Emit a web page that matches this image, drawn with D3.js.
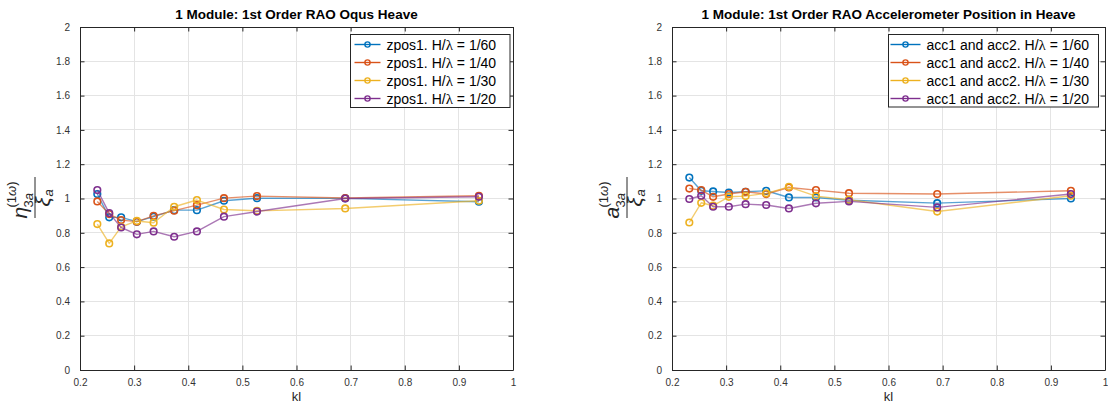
<!DOCTYPE html>
<html>
<head>
<meta charset="utf-8">
<script src="https://cdn.jsdelivr.net/npm/d3@7"></script>
<style>
  html, body { margin: 0; padding: 0; background: #ffffff; }
  svg { display: block; }
  text { font-family: "Liberation Sans", Arial, Helvetica, sans-serif; }
</style>
</head>
<body>
<svg id="chart" width="1108" height="405"></svg>
<script>
// Wave number times module length (shared by every series)
const klValues = [0.232, 0.254, 0.276, 0.305, 0.336, 0.374, 0.416, 0.466, 0.527, 0.690, 0.937];

// Wave steepness cases
const steepness = ["1/60", "1/40", "1/30", "1/20"];

// Oqus motion capture: heave RAO
const zpos60 = [1.026, 0.890, 0.890, 0.865, 0.894, 0.932, 0.932, 0.987, 1.002, 1.001, 0.981];
const zpos40 = [0.983, 0.909, 0.874, 0.865, 0.899, 0.929, 0.961, 1.002, 1.014, 1.003, 1.016];
const zpos30 = [0.851, 0.738, 0.835, 0.869, 0.859, 0.952, 0.991, 0.936, 0.928, 0.942, 0.987];
const zpos20 = [1.049, 0.915, 0.831, 0.791, 0.808, 0.777, 0.808, 0.894, 0.924, 1.000, 1.010];

// Accelerometers: heave RAO at the accelerometer position
const acc60 = [1.122, 1.045, 1.041, 1.035, 1.039, 1.045, 1.006, 1.006, 0.990, 0.973, 1.000];
const acc40 = [1.058, 1.049, 1.010, 1.026, 1.039, 1.026, 1.064, 1.049, 1.031, 1.026, 1.045];
const acc30 = [0.860, 0.975, 0.958, 1.010, 1.014, 1.030, 1.068, 1.014, 0.993, 0.924, 1.016];
const acc20 = [0.997, 1.016, 0.952, 0.952, 0.967, 0.962, 0.942, 0.972, 0.983, 0.948, 1.026];

// Axis ticks
const xTicks = [0.2, 0.3, 0.4, 0.5, 0.6, 0.7, 0.8, 0.9, 1];
const yTicks = [0, 0.2, 0.4, 0.6, 0.8, 1, 1.2, 1.4, 1.6, 1.8, 2];

const colors = ["#0072BD", "#D95319", "#EDB120", "#7E2F8E"];
const axisColor = "#262626";
const gridColor = "#e4e4e4";

const svg = d3.select("#chart");

function drawPanel(opts) {
  const { left, right, top, bottom, title, series, legendLabel, legendBox, symbol } = opts;
  const x = d3.scaleLinear().domain([0.2, 1]).range([left, right]);
  const y = d3.scaleLinear().domain([0, 2]).range([bottom, top]);
  const g = svg.append("g");

  // grid
  g.append("g").selectAll("line.gx").data(xTicks).join("line")
    .attr("x1", d => x(d)).attr("x2", d => x(d))
    .attr("y1", top).attr("y2", bottom)
    .attr("stroke", gridColor).attr("stroke-width", 1).attr("shape-rendering", "crispEdges");
  g.append("g").selectAll("line.gy").data(yTicks).join("line")
    .attr("y1", d => y(d)).attr("y2", d => y(d))
    .attr("x1", left).attr("x2", right)
    .attr("stroke", gridColor).attr("stroke-width", 1).attr("shape-rendering", "crispEdges");

  // axes with inward ticks on all four sides
  const tl = 4.5;
  const fmt = d => d3.format("~g")(d);
  const xb = g.append("g").attr("transform", `translate(0,${bottom})`)
    .call(d3.axisBottom(x).tickValues(xTicks).tickSizeInner(-tl).tickSizeOuter(0).tickPadding(9).tickFormat(fmt));
  const xt = g.append("g").attr("transform", `translate(0,${top})`)
    .call(d3.axisTop(x).tickValues(xTicks).tickSizeInner(-tl).tickSizeOuter(0).tickFormat(""));
  const yl = g.append("g").attr("transform", `translate(${left},0)`)
    .call(d3.axisLeft(y).tickValues(yTicks).tickSizeInner(-tl).tickSizeOuter(0).tickPadding(10).tickFormat(fmt));
  const yr = g.append("g").attr("transform", `translate(${right},0)`)
    .call(d3.axisRight(y).tickValues(yTicks).tickSizeInner(-tl).tickSizeOuter(0).tickFormat(""));
  [xb, xt, yl, yr].forEach(a => {
    a.select(".domain").attr("stroke", axisColor).attr("stroke-width", 1);
    a.selectAll(".tick line").attr("stroke", axisColor).attr("stroke-width", 1);
    a.selectAll(".tick text").attr("fill", "#333").attr("font-size", 10)
      .attr("font-family", "Liberation Sans, Arial, sans-serif");
  });

  // series
  const line = d3.line().x(d => x(d[0])).y(d => y(d[1]));
  series.forEach((vals, i) => {
    const pts = klValues.map((k, j) => [k, vals[j]]);
    g.append("path").datum(pts).attr("d", line)
      .attr("fill", "none").attr("stroke", colors[i]).attr("stroke-width", 1.4)
      .attr("stroke-opacity", 0.65).attr("stroke-linejoin", "round");
    g.append("g").selectAll("circle").data(pts).join("circle")
      .attr("cx", d => x(d[0])).attr("cy", d => y(d[1])).attr("r", 3.3)
      .attr("fill", "none").attr("stroke", colors[i]).attr("stroke-width", 1.6);
  });

  // title
  svg.append("text").attr("x", (left + right) / 2).attr("y", 18.5)
    .attr("text-anchor", "middle").attr("font-weight", "bold").attr("font-size", 13.5)
    .attr("fill", "#000").text(title);

  // x label
  svg.append("text").attr("x", (left + right) / 2).attr("y", 401)
    .attr("text-anchor", "middle").attr("font-size", 13).attr("fill", "#262626").text("kl");

  // y label: fraction  sym_{3a}^{(1ω)} / ξ_a, rotated
  const serif = "Liberation Serif, Times New Roman, serif";
  const lab = svg.append("g").attr("transform", `translate(${left - 45},197.5) rotate(-90)`)
    .attr("fill", "#262626").attr("font-family", serif);
  lab.append("line").attr("x1", -20.5).attr("x2", 20.5).attr("y1", 0).attr("y2", 0)
    .attr("stroke", "#262626").attr("stroke-width", 1);
  lab.append("text").attr("x", -21).attr("y", -8).attr("font-size", 21)
    .attr("font-style", "italic").attr("font-family", serif).text(symbol);
  const sub = lab.append("text").attr("x", -10).attr("y", -2.5).attr("font-size", 13).attr("font-family", serif);
  sub.append("tspan").text("3");
  sub.append("tspan").attr("font-style", "italic").text("a");
  const sup = lab.append("text").attr("x", -10).attr("y", -19).attr("font-size", 13).attr("font-family", serif);
  sup.append("tspan").text("(1");
  sup.append("tspan").attr("font-style", "italic").text("ω");
  sup.append("tspan").text(")");
  lab.append("text").attr("x", -9).attr("y", 15).attr("font-size", 21)
    .attr("font-style", "italic").attr("font-family", serif).text("ξ");
  lab.append("text").attr("x", 1).attr("y", 18).attr("font-size", 13)
    .attr("font-style", "italic").attr("font-family", serif).text("a");

  // legend
  const lb = legendBox;
  const lg = svg.append("g");
  lg.append("rect").attr("x", lb.x).attr("y", lb.y).attr("width", lb.w).attr("height", lb.h)
    .attr("fill", "#fff").attr("stroke", axisColor).attr("stroke-width", 1);
  steepness.forEach((s, i) => {
    const cy = lb.y + 10 + i * 18;
    const x0 = lb.x + lb.pad, x1 = x0 + lb.lineLen;
    lg.append("line").attr("x1", x0).attr("x2", x1).attr("y1", cy).attr("y2", cy)
      .attr("stroke", colors[i]).attr("stroke-width", 1.4);
    lg.append("circle").attr("cx", (x0 + x1) / 2).attr("cy", cy).attr("r", 2.6)
      .attr("fill", "none").attr("stroke", colors[i]).attr("stroke-width", 1.4);
    const t = lg.append("text").attr("x", x1 + 6).attr("y", cy + 5).attr("font-size", 14).attr("fill", "#000");
    t.append("tspan").text(legendLabel + " H/");
    t.append("tspan").attr("font-family", serif).attr("font-size", 15).text("λ");
    t.append("tspan").text(" = " + s);
  });
}

drawPanel({
  left: 80, right: 513, top: 27, bottom: 370,
  title: "1 Module: 1st Order RAO Oqus Heave",
  series: [zpos60, zpos40, zpos30, zpos20],
  legendLabel: "zpos1.",
  legendBox: { x: 350.5, y: 34.5, w: 159.5, h: 73, pad: 4, lineLen: 26 },
  symbol: "η"
});

drawPanel({
  left: 672, right: 1105, top: 27, bottom: 370,
  title: "1 Module: 1st Order RAO Accelerometer Position in Heave",
  series: [acc60, acc40, acc30, acc20],
  legendLabel: "acc1 and acc2.",
  legendBox: { x: 888.5, y: 34.5, w: 210, h: 72.5, pad: 2, lineLen: 30 },
  symbol: "a"
});
</script>
</body>
</html>
